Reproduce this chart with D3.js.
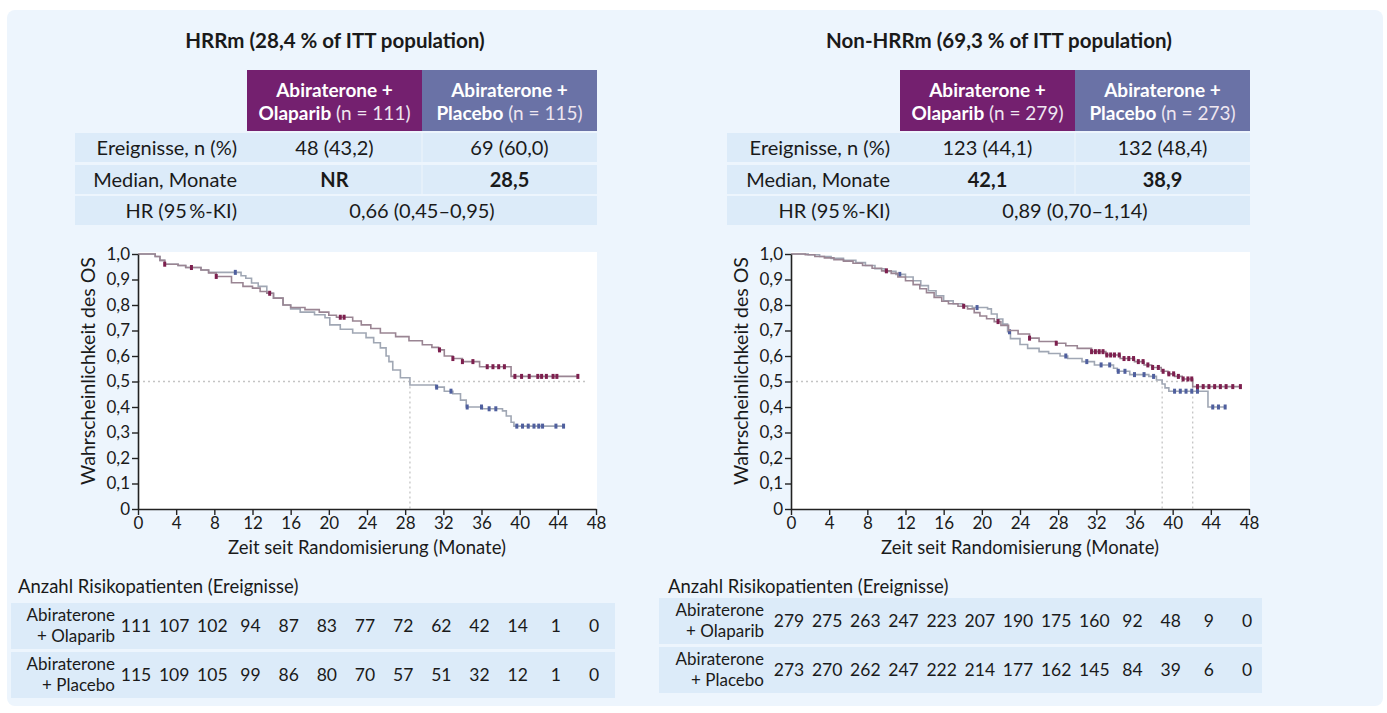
<!DOCTYPE html>
<html>
<head>
<meta charset="utf-8">
<script src="https://cdn.jsdelivr.net/npm/d3@7"></script>
<style>
  body { margin: 0; background: #ffffff; }
  svg { display: block; font-family: Lato, "Open Sans", sans-serif; }
</style>
</head>
<body>
<svg id="chart" width="1387" height="713"></svg>
<script>
// ---- Data -------------------------------------------------------------
const monthTicks = [0, 4, 8, 12, 16, 20, 24, 28, 32, 36, 40, 44, 48];
const survTicks = [0, 0.1, 0.2, 0.3, 0.4, 0.5, 0.6, 0.7, 0.8, 0.9, 1.0];
const armNames = ["Olaparib", "Placebo"];

const hrrmTitle = "HRRm (28,4 % of ITT population)";
const hrrmN = [111, 115];
const hrrmEvents = ["48 (43,2)", "69 (60,0)"];
const hrrmMedian = ["NR", "28,5"];
const hrrmHR = "0,66 (0,45–0,95)";
const hrrmMedianMonths = [28.5];

const nonTitle = "Non-HRRm (69,3 % of ITT population)";
const nonN = [279, 273];
const nonEvents = ["123 (44,1)", "132 (48,4)"];
const nonMedian = ["42,1", "38,9"];
const nonHR = "0,89 (0,70–1,14)";
const nonMedianMonths = [38.9, 42.1];

// Kaplan–Meier steps: [month, survival]; last entry marks end of follow-up
const hrrmOlaparibKM = [
  [0, 1], [1.8, 0.99], [2.3, 0.975], [2.8, 0.96], [4.2, 0.955], [5.0, 0.947], [6.6, 0.937],
  [7.4, 0.926], [8.2, 0.912], [9.8, 0.887], [11.0, 0.873], [12.0, 0.866], [12.8, 0.853],
  [13.5, 0.846], [14.2, 0.827], [15.2, 0.80], [16.0, 0.79], [17.5, 0.782], [19.0, 0.772],
  [20.0, 0.76], [20.8, 0.752], [22.5, 0.737], [23.4, 0.722], [24.4, 0.708], [25.4, 0.69],
  [27.0, 0.676], [28.4, 0.66], [29.8, 0.644], [30.8, 0.634], [31.5, 0.624], [32.1, 0.60],
  [33.0, 0.59], [34.0, 0.578], [35.8, 0.558], [39.1, 0.52], [46.2, 0.52]
];
const hrrmPlaceboKM = [
  [0, 1], [1.8, 0.99], [2.3, 0.975], [2.8, 0.96], [4.2, 0.955], [5.0, 0.947], [6.6, 0.937],
  [7.4, 0.928], [10.8, 0.915], [11.3, 0.905], [11.9, 0.886], [12.6, 0.873], [13.5, 0.846],
  [14.2, 0.827], [15.2, 0.80], [16.0, 0.785], [17.0, 0.772], [18.5, 0.762], [19.6, 0.75],
  [20.1, 0.722], [21.2, 0.705], [22.5, 0.69], [23.9, 0.672], [24.7, 0.652], [25.4, 0.632],
  [26.0, 0.60], [26.3, 0.578], [26.7, 0.545], [27.5, 0.515], [28.5, 0.486], [31.2, 0.478],
  [32.1, 0.462], [33.0, 0.452], [33.8, 0.427], [34.4, 0.40], [36.1, 0.393], [38.2, 0.385],
  [38.6, 0.365], [39.1, 0.34], [39.4, 0.325], [44.7, 0.325]
];
const hrrmOlaparibCensor = [2.8, 5.6, 8.2, 13.8, 21.2, 21.6, 31.6, 33.0, 34.0, 35.1, 36.6,
  37.2, 37.8, 38.4, 39.5, 40.2, 41.0, 41.9, 42.3, 42.8, 43.5, 43.9, 46.1];
const hrrmPlaceboCensor = [10.2, 31.3, 32.8, 34.5, 36.0, 36.8, 37.5, 39.7, 40.3, 40.9, 41.5,
  42.0, 42.4, 43.8, 44.6];

const nonOlaparibKM = [
  [0, 1], [1.5, 0.997], [2.5, 0.99], [3.5, 0.985], [4.5, 0.978], [5.5, 0.972], [6.5, 0.964],
  [7.5, 0.955], [8.5, 0.944], [9.5, 0.934], [10.5, 0.924], [11.2, 0.91], [12.0, 0.895],
  [12.8, 0.88], [13.5, 0.864], [14.2, 0.848], [15.0, 0.83], [15.8, 0.815], [16.5, 0.805],
  [17.5, 0.795], [18.5, 0.785], [19.2, 0.77], [19.8, 0.757], [20.5, 0.746], [21.3, 0.735],
  [22.0, 0.72], [22.8, 0.70], [23.8, 0.686], [25.0, 0.67], [26.0, 0.657], [27.8, 0.65],
  [28.8, 0.64], [30.0, 0.63], [31.5, 0.617], [33.0, 0.604], [34.5, 0.59], [36.0, 0.578],
  [37.0, 0.565], [37.8, 0.555], [38.8, 0.54], [39.5, 0.53], [40.2, 0.52], [41.0, 0.51],
  [42.1, 0.48], [47.1, 0.48]
];
const nonPlaceboKM = [
  [0, 1], [1.8, 0.997], [3.0, 0.99], [4.2, 0.983], [5.5, 0.975], [6.8, 0.966], [7.8, 0.955],
  [8.8, 0.942], [9.8, 0.932], [11.0, 0.92], [12.0, 0.91], [12.8, 0.895], [13.6, 0.876],
  [14.4, 0.856], [15.2, 0.836], [16.0, 0.816], [17.0, 0.805], [18.0, 0.796], [19.0, 0.79],
  [20.6, 0.785], [21.0, 0.765], [21.6, 0.745], [22.2, 0.725], [22.7, 0.695], [23.0, 0.668],
  [24.0, 0.645], [24.8, 0.63], [26.0, 0.617], [27.0, 0.61], [28.2, 0.60], [29.0, 0.59],
  [30.5, 0.578], [31.8, 0.565], [33.8, 0.552], [34.2, 0.54], [35.5, 0.527], [37.5, 0.52],
  [38.3, 0.506], [38.9, 0.49], [39.2, 0.475], [39.6, 0.462], [43.7, 0.40], [45.6, 0.40]
];
const nonOlaparibCensor = [10.0, 18.1, 21.7, 25.0, 27.8, 31.5, 31.9, 32.3, 32.7, 33.1, 33.5,
  33.9, 34.4, 34.9, 35.4, 35.9, 36.4, 36.9, 37.4, 37.9, 38.5, 39.0, 39.6, 40.1, 40.6, 41.1,
  41.6, 42.0, 42.6, 43.2, 43.8, 44.4, 45.0, 45.6, 46.3, 47.1];
const nonPlaceboCensor = [11.4, 19.5, 22.9, 28.8, 31.0, 32.5, 33.4, 34.3, 35.0, 36.0, 37.0,
  38.0, 40.2, 40.8, 41.4, 42.0, 42.6, 44.2, 44.8, 45.5];

// Number at risk at each month tick
const hrrmRiskOlaparib = [111, 107, 102, 94, 87, 83, 77, 72, 62, 42, 14, 1, 0];
const hrrmRiskPlacebo = [115, 109, 105, 99, 86, 80, 70, 57, 51, 32, 12, 1, 0];
const nonRiskOlaparib = [279, 275, 263, 247, 223, 207, 190, 175, 160, 92, 48, 9, 0];
const nonRiskPlacebo = [273, 270, 262, 247, 222, 214, 177, 162, 145, 84, 39, 6, 0];

// ---- Styles -----------------------------------------------------------
const COL = {
  panel: "#edf5fd", row: "#dcebf9", olaHead: "#74206f", plaHead: "#6a72a6",
  olaLine: "#9a8593", plaLine: "#a0a7b4", olaMark: "#7d1f4e", plaMark: "#4f5f9e",
  guide: "#c4c4c4", axis: "#222222", text: "#1a1a1a"
};
const FS = { title: 20.5, head: 19, table: 20, tick: 17, axisX: 18.5, axisY: 19.5,
  riskTitle: 18.5, riskLabel: 17, riskNum: 17.5 };

const svg = d3.select("#chart");
svg.append("rect").attr("x", 7).attr("y", 10).attr("width", 1376).attr("height", 696)
  .attr("rx", 8).attr("fill", COL.panel);

const panels = [
  { title: hrrmTitle, n: hrrmN, events: hrrmEvents, median: hrrmMedian, hr: hrrmHR,
    km: [hrrmOlaparibKM, hrrmPlaceboKM], censor: [hrrmOlaparibCensor, hrrmPlaceboCensor],
    medians: hrrmMedianMonths, guideEnd: 47, risk: [hrrmRiskOlaparib, hrrmRiskPlacebo],
    L: { titleX: 335, headX: 247, rowX: 75, labelX: 237, plotX: 138,
         riskX: 11, riskW: 604, riskY: 603, riskLabelX: 115, riskTitleX: 18 } },
  { title: nonTitle, n: nonN, events: nonEvents, median: nonMedian, hr: nonHR,
    km: [nonOlaparibKM, nonPlaceboKM], censor: [nonOlaparibCensor, nonPlaceboCensor],
    medians: nonMedianMonths, guideEnd: 42.1, risk: [nonRiskOlaparib, nonRiskPlacebo],
    L: { titleX: 999, headX: 900, rowX: 727, labelX: 890, plotX: 791,
         riskX: 659, riskW: 603, riskY: 598, riskLabelX: 764, riskTitleX: 668 } }
];

const colW = 175, plotW = 458, plotTop = 254, plotBottom = 509;
const rowTops = [133, 165, 196], rowH = 29;
const fmt = v => v === 0 ? "0" : d3.format(".1f")(v).replace(".", ",");

// step-function lookup used to place censor marks on their curve
function survAt(km, t) {
  let s = km[0][1];
  for (const [m, v] of km) { if (m <= t) s = v; else break; }
  return s;
}

panels.forEach(p => {
  const L = p.L;
  const g = svg.append("g");

  // Title
  g.append("text").attr("x", L.titleX).attr("y", 41).attr("dy", "0.35em")
    .attr("text-anchor", "middle").attr("font-weight", 700).attr("font-size", FS.title)
    .attr("fill", COL.text).text(p.title);

  // Header cells
  [COL.olaHead, COL.plaHead].forEach((c, i) => {
    const x0 = L.headX + i * colW;
    g.append("rect").attr("x", x0).attr("y", 70).attr("width", colW).attr("height", 61).attr("fill", c);
    const cx = x0 + colW / 2;
    g.append("text").attr("x", cx).attr("y", 90).attr("dy", "0.35em").attr("text-anchor", "middle")
      .attr("fill", "#fff").attr("font-size", FS.head).attr("font-weight", 700).text("Abiraterone +");
    const t2 = g.append("text").attr("x", cx).attr("y", 113).attr("dy", "0.35em")
      .attr("text-anchor", "middle").attr("fill", "#fff").attr("font-size", FS.head);
    t2.append("tspan").attr("font-weight", 700).text(armNames[i]);
    t2.append("tspan").attr("font-weight", 400).attr("fill", "#eee6f0")
      .text(" (n = " + p.n[i] + ")");
  });

  // Summary rows
  const rows = [
    { label: "Ereignisse, n (%)", vals: p.events, bold: false },
    { label: "Median, Monate", vals: p.median, bold: true },
    { label: "HR (95\u2009%-KI)", span: p.hr }
  ];
  const rowRight = L.headX + 2 * colW;
  rows.forEach((r, i) => {
    const y0 = rowTops[i];
    g.append("rect").attr("x", L.rowX).attr("y", y0).attr("width", rowRight - L.rowX)
      .attr("height", rowH).attr("fill", COL.row);
    g.append("text").attr("x", L.labelX).attr("y", y0 + rowH / 2).attr("dy", "0.35em")
      .attr("text-anchor", "end").attr("font-size", FS.table).attr("fill", COL.text).text(r.label);
    if (r.span) {
      g.append("text").attr("x", L.headX + colW).attr("y", y0 + rowH / 2).attr("dy", "0.35em")
        .attr("text-anchor", "middle").attr("font-size", FS.table).attr("fill", COL.text).text(r.span);
    } else {
      g.append("line").attr("x1", L.headX + colW).attr("x2", L.headX + colW)
        .attr("y1", y0).attr("y2", y0 + rowH).attr("stroke", "#fff").attr("stroke-opacity", 0.5);
      r.vals.forEach((v, j) => {
        g.append("text").attr("x", L.headX + colW * j + colW / 2).attr("y", y0 + rowH / 2)
          .attr("dy", "0.35em").attr("text-anchor", "middle").attr("font-size", FS.table)
          .attr("font-weight", r.bold ? 700 : 400).attr("fill", COL.text).text(v);
      });
    }
  });

  // Scales
  const x = d3.scaleLinear().domain([0, 48]).range([L.plotX, L.plotX + plotW]);
  const y = d3.scaleLinear().domain([0, 1]).range([plotBottom, plotTop]);

  g.append("rect").attr("x", x(0)).attr("y", y(1) - 2).attr("width", plotW + 1)
    .attr("height", plotBottom - y(1) + 2).attr("fill", "#ffffff");

  // Median guides
  g.append("line").attr("x1", x(0)).attr("x2", x(p.guideEnd)).attr("y1", y(0.5)).attr("y2", y(0.5))
    .attr("stroke", COL.guide).attr("stroke-width", 1.3).attr("stroke-dasharray", "2,3");
  p.medians.forEach(m => {
    g.append("line").attr("x1", x(m)).attr("x2", x(m)).attr("y1", y(0.5)).attr("y2", y(0))
      .attr("stroke", COL.guide).attr("stroke-width", 1.3).attr("stroke-dasharray", "2,3");
  });

  // Curves (placebo drawn first, olaparib on top)
  const line = d3.line().x(d => x(d[0])).y(d => y(d[1])).curve(d3.curveStepAfter);
  [1, 0].forEach(i => {
    g.append("path").datum(p.km[i]).attr("d", line).attr("fill", "none")
      .attr("stroke", i === 0 ? COL.olaLine : COL.plaLine).attr("stroke-width", 1.6);
    g.selectAll(null).data(p.censor[i]).enter().append("rect")
      .attr("x", t => x(t) - 1.5).attr("y", t => y(survAt(p.km[i], t)) - 2.5)
      .attr("width", 3).attr("height", 5)
      .attr("fill", i === 0 ? COL.olaMark : COL.plaMark);
  });

  // Axes
  const xAxis = d3.axisBottom(x).tickValues(monthTicks).tickSize(6).tickSizeOuter(0).tickPadding(2);
  const yAxis = d3.axisLeft(y).tickValues(survTicks).tickSize(6).tickSizeOuter(0).tickPadding(2)
    .tickFormat(fmt);
  const gx = g.append("g").attr("transform", `translate(0,${plotBottom})`).call(xAxis);
  const gy = g.append("g").attr("transform", `translate(${L.plotX},0)`).call(yAxis);
  [gx, gy].forEach(a => {
    a.select(".domain").attr("stroke", COL.axis).attr("stroke-width", 1.6);
    a.selectAll(".tick line").attr("stroke", COL.axis).attr("stroke-width", 1.4);
    a.selectAll(".tick text").attr("font-size", FS.tick).attr("fill", COL.text)
      .attr("font-family", "Lato, sans-serif");
  });

  g.append("text").attr("x", x(24)).attr("y", 548).attr("dy", "0.35em").attr("text-anchor", "middle")
    .attr("font-size", FS.axisX).attr("fill", COL.text).text("Zeit seit Randomisierung (Monate)");
  g.append("text").attr("transform", `translate(${L.plotX - 50},371) rotate(-90)`)
    .attr("dy", "0.35em").attr("text-anchor", "middle").attr("font-size", FS.axisY)
    .attr("fill", COL.text).text("Wahrscheinlichkeit des OS");

  // Number-at-risk table
  g.append("text").attr("x", L.riskTitleX).attr("y", 587).attr("dy", "0.35em")
    .attr("font-size", FS.riskTitle).attr("fill", COL.text).text("Anzahl Risikopatienten (Ereignisse)");
  const riskRowH = 46;
  p.risk.forEach((vals, i) => {
    const y0 = L.riskY + i * (riskRowH + 3);
    g.append("rect").attr("x", L.riskX).attr("y", y0).attr("width", L.riskW).attr("height", riskRowH)
      .attr("fill", COL.row);
    ["Abiraterone", "+ " + armNames[i]].forEach((s, k) => {
      g.append("text").attr("x", L.riskLabelX).attr("y", y0 + riskRowH / 2 + (k ? 10.5 : -10.5))
        .attr("dy", "0.35em").attr("text-anchor", "end").attr("font-size", FS.riskLabel)
        .attr("fill", COL.text).text(s);
    });
    g.selectAll(null).data(vals).enter().append("text")
      .attr("x", (v, k) => x(monthTicks[k]) - 2).attr("y", y0 + riskRowH / 2).attr("dy", "0.35em")
      .attr("text-anchor", "middle").attr("font-size", FS.riskNum).attr("fill", COL.text).text(v => v);
  });
});
</script>
</body>
</html>
